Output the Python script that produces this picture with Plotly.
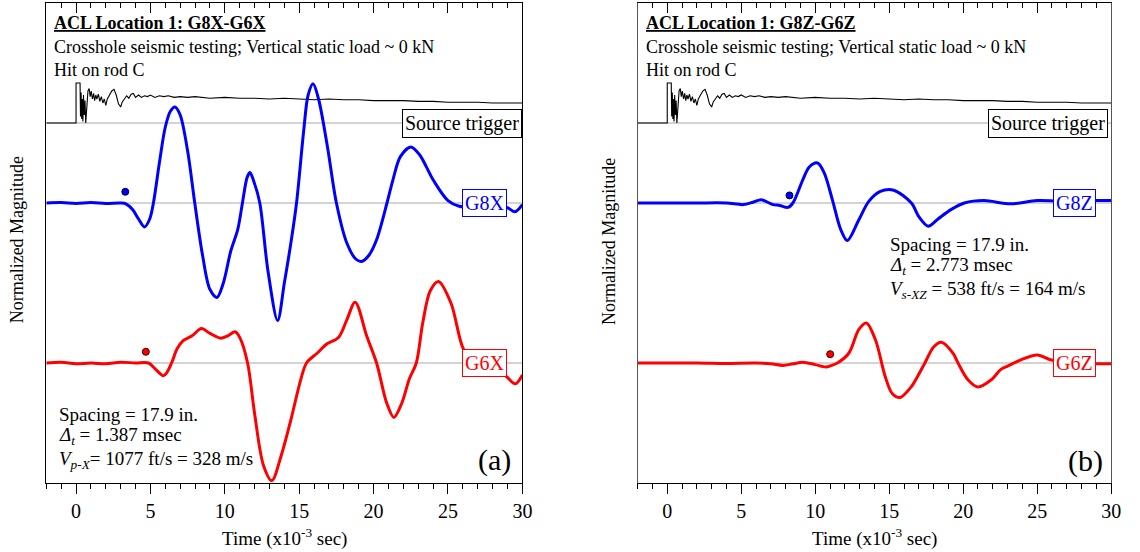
import plotly.graph_objects as go

# ---------------- data ----------------
# time axis in x10^-3 sec; magnitudes in normalized units (relative to each trace baseline)
trigger_pts = [(-2, 0), (0.0, 0), (0.0, 0.5), (0.27, 0.5), (0.30, 0.08), (0.34, 0.38), (0.38, 0.05),
               (0.42, 0.30), (0.46, 0.02), (0.50, 0.35), (0.55, 0.10), (0.60, 0.28), (0.65, 0.0),
               (0.72, 0.25), (0.80, 0.40), (0.88, 0.43), (0.95, 0.33), (1.02, 0.40), (1.10, 0.30),
               (1.18, 0.37), (1.25, 0.28), (1.33, 0.35), (1.40, 0.30), (1.50, 0.36), (1.60, 0.27),
               (1.70, 0.33), (1.80, 0.25), (1.90, 0.30), (2.00, 0.22), (2.10, 0.30), (2.25, 0.36),
               (2.40, 0.40), (2.55, 0.42), (2.70, 0.35), (2.85, 0.24), (3.00, 0.20), (3.10, 0.26),
               (3.25, 0.30), (3.40, 0.34), (3.55, 0.31), (3.70, 0.36), (3.85, 0.37), (4.00, 0.32),
               (4.2, 0.35), (4.4, 0.32), (4.6, 0.34), (4.8, 0.33), (5.0, 0.35), (5.3, 0.32),
               (5.6, 0.34), (5.9, 0.33), (6.2, 0.34), (6.6, 0.32), (7.0, 0.33), (7.5, 0.32),
               (8.0, 0.33), (8.5, 0.32), (9.0, 0.31), (10, 0.32), (11, 0.31), (12, 0.31), (13, 0.30),
               (14, 0.31), (15, 0.30), (16, 0.29), (17, 0.30), (18, 0.29), (19, 0.29), (20, 0.28),
               (21, 0.28), (22, 0.28), (23, 0.27), (24, 0.27), (25, 0.26), (26, 0.26), (27, 0.26),
               (28, 0.25), (29, 0.25), (30, 0.25)]

g8x_pts = [(-2, 0), (-1, 0.005), (0, -0.005), (1, 0.005), (2, -0.005), (3.0, 0.0), (3.35, -0.01),
           (3.8, -0.08), (4.2, -0.2), (4.6, -0.30), (4.95, -0.2), (5.2, 0.0), (5.6, 0.5), (6.0, 0.95),
           (6.35, 1.15), (6.65, 1.20), (7.0, 1.1), (7.5, 0.65), (7.98, 0.0), (8.5, -0.65), (9.0, -1.08),
           (9.47, -1.18), (9.9, -1.0), (10.4, -0.6), (10.87, -0.33), (11.2, 0.02), (11.5, 0.32),
           (11.69, 0.38), (11.95, 0.27), (12.35, 0.0), (12.9, -0.85), (13.55, -1.47),
           (14.0, -1.0), (14.44, -0.5), (14.82, 0.0), (15.3, 0.9), (15.6, 1.35), (15.93, 1.49),
           (16.3, 1.3), (16.9, 0.7), (17.5, 0.0), (18.2, -0.5), (18.8, -0.7), (19.2, -0.73),
           (19.7, -0.65), (20.2, -0.46), (20.9, 0.0), (21.3, 0.29), (21.8, 0.58), (22.5, 0.70),
           (23.1, 0.6), (24.0, 0.29), (25.0, 0.03), (25.75, -0.04), (27, -0.05), (28.0, -0.04),
           (29.0, -0.06), (29.5, -0.11), (30, -0.02)]

g6x_pts = [(-2, 0), (-1, 0.01), (0, -0.01), (1, 0.0), (2, -0.01), (3, 0.01), (4, 0.0), (4.87, 0.0),
           (5.3, -0.07), (5.87, -0.16), (6.1, -0.12), (6.42, 0.0), (6.8, 0.18), (7.2, 0.28), (7.8, 0.34),
           (8.42, 0.43), (9.0, 0.37), (9.71, 0.31), (10.2, 0.34), (10.69, 0.39), (11.0, 0.32),
           (11.53, 0.0), (12.0, -0.63), (12.6, -1.28), (13.16, -1.47), (13.8, -1.15), (14.44, -0.71),
           (15.1, -0.21), (15.49, 0.0), (16.22, 0.125), (16.87, 0.24), (17.64, 0.32), (18.2, 0.54),
           (18.76, 0.76), (19.55, 0.33), (20.2, 0.0), (20.88, -0.5), (21.36, -0.68), (21.9, -0.5),
           (22.4, -0.2), (22.87, 0.0), (23.3, 0.5), (23.8, 0.9), (24.36, 1.02), (25.2, 0.75),
           (26.0, 0.19), (26.6, 0.04), (28.0, -0.06), (28.87, -0.16), (29.53, -0.26), (30.0, -0.15)]

g8z_pts = [(-2, 0), (0, 0), (2, 0.0), (4, 0.0), (5.14, -0.02), (5.8, 0.01), (6.36, 0.04), (7.14, -0.02),
           (7.6, -0.03), (8.15, -0.055), (8.49, 0.0), (9.16, 0.29), (9.6, 0.45), (10.16, 0.50),
           (10.6, 0.38), (11.16, 0.04), (11.72, -0.33), (12.17, -0.47), (12.95, -0.21), (13.62, 0.02),
           (14.4, 0.145), (15.3, 0.16), (16.5, 0.0), (17.0, -0.17), (17.64, -0.29), (18.3, -0.2),
           (19.2, -0.08), (20.08, 0.0), (21.4, 0.03), (23.2, -0.01), (25.0, 0.03), (27, 0.02),
           (28.9, 0.03), (30, 0.03)]

g6z_pts = [(-2, 0), (2, 0.0), (4, -0.005), (6, 0.0), (7.0, -0.01), (7.82, -0.03), (8.5, -0.01),
           (9.16, 0.01), (10.0, -0.02), (10.72, -0.05), (11.1, -0.03), (11.5, 0.0), (12.28, 0.125),
           (12.95, 0.42), (13.46, 0.50), (14.07, 0.29), (14.73, -0.17), (15.2, -0.38), (15.74, -0.43),
           (16.52, -0.29), (16.97, -0.15), (17.41, 0.0), (18.0, 0.2), (18.53, 0.26), (19.32, 0.12),
           (19.65, 0.0), (20.32, -0.21), (20.99, -0.30), (21.9, -0.21), (22.55, -0.08), (23.0, -0.04),
           (23.9, 0.04), (25.0, 0.10), (25.9, 0.04), (27, 0.0), (28.9, -0.01), (30, -0.01)]

# trace baselines (normalized units)
base_trigger = 3.0
base_upper = 2.0
base_lower = 0.0

# first-arrival picks
dots_a_t = [3.31, 4.69]
dots_a_y = [0.14, 0.14]
dots_b_t = [8.26, 11.01]
dots_b_y = [0.095, 0.11]

x_ticks = [0, 5, 10, 15, 20, 25, 30]

FONT = "Liberation Serif"
BLUE = "#0000ff"
RED = "#ff0000"


def split(pts, off=0.0):
    return [p[0] for p in pts], [p[1] + off for p in pts]


fig = go.Figure()


def add_panel(xa, ya, up_pts, lo_pts, dt, dy):
    for b in (base_trigger, base_upper, base_lower):
        fig.add_trace(go.Scatter(x=[-2, 30], y=[b, b], mode="lines",
                                 line=dict(color="#a8a8a8", width=1), xaxis=xa, yaxis=ya,
                                 showlegend=False, hoverinfo="skip"))
    tx, ty = split(trigger_pts, base_trigger)
    fig.add_trace(go.Scatter(x=tx, y=ty, mode="lines", line=dict(color="black", width=1.1),
                             xaxis=xa, yaxis=ya, showlegend=False, hoverinfo="skip"))
    ux, uy = split(up_pts, base_upper)
    fig.add_trace(go.Scatter(x=ux, y=uy, mode="lines", line=dict(color=BLUE, width=3, shape="spline", smoothing=0.9),
                             xaxis=xa, yaxis=ya, showlegend=False, hoverinfo="skip"))
    lx, ly = split(lo_pts, base_lower)
    fig.add_trace(go.Scatter(x=lx, y=ly, mode="lines", line=dict(color=RED, width=3, shape="spline", smoothing=0.9),
                             xaxis=xa, yaxis=ya, showlegend=False, hoverinfo="skip"))
    fig.add_trace(go.Scatter(x=[dt[0]], y=[dy[0] + base_upper], mode="markers",
                             marker=dict(color=BLUE, size=7, line=dict(color="#000033", width=1)),
                             xaxis=xa, yaxis=ya, showlegend=False, hoverinfo="skip"))
    fig.add_trace(go.Scatter(x=[dt[1]], y=[dy[1] + base_lower], mode="markers",
                             marker=dict(color=RED, size=7, line=dict(color="#330000", width=1)),
                             xaxis=xa, yaxis=ya, showlegend=False, hoverinfo="skip"))


add_panel("x", "y", g8x_pts, g6x_pts, dots_a_t, dots_a_y)
add_panel("x2", "y2", g8z_pts, g6z_pts, dots_b_t, dots_b_y)
# invisible anchors for top tick axes
fig.add_trace(go.Scatter(x=[0], y=[0], mode="markers", marker=dict(opacity=0), xaxis="x3", yaxis="y",
                         showlegend=False, hoverinfo="skip"))
fig.add_trace(go.Scatter(x=[0], y=[0], mode="markers", marker=dict(opacity=0), xaxis="x4", yaxis="y2",
                         showlegend=False, hoverinfo="skip"))

dom_a = [46.7 / 1140, 527 / 1140]
dom_b = [643.3 / 1140, 1121 / 1140]


def xbottom(dom, anchor):
    return dict(domain=dom, anchor=anchor, range=[-2, 30], tickvals=x_ticks, ticks="outside", ticklen=10,
                tickwidth=1, tickcolor="black", showline=True, linecolor="black", linewidth=1, mirror=True,
                showgrid=False, zeroline=False,
                minor=dict(dtick=1, tick0=0, ticks="outside", ticklen=5, tickcolor="black", showgrid=False),
                tickfont=dict(family=FONT, size=20, color="black"))


def xtop(over, anchor):
    return dict(overlaying=over, anchor=anchor, side="top", range=[-2, 30], tickvals=x_ticks, ticks="inside",
                ticklen=10, tickwidth=1, tickcolor="black", showticklabels=False, showline=False,
                showgrid=False, zeroline=False,
                minor=dict(dtick=1, tick0=0, ticks="inside", ticklen=5, tickcolor="black", showgrid=False))


def yax(anchor, color):
    return dict(domain=[0, 1], anchor=anchor, range=[-1.5, 4.5], showticklabels=False, ticks="",
                showline=True, linecolor=color, linewidth=1, mirror=True, showgrid=False, zeroline=False)


fig.update_layout(
    width=1140, height=552, margin=dict(l=0, r=0, t=3, b=69),
    paper_bgcolor="white", plot_bgcolor="white", showlegend=False,
    font=dict(family=FONT, size=19, color="black"),
    xaxis=xbottom(dom_a, "y"), xaxis2=xbottom(dom_b, "y2"),
    xaxis3=xtop("x", "y"), xaxis4=xtop("x2", "y2"),
    yaxis=yax("x", "black"), yaxis2=yax("x2", "#555555"),
)


def py(p):
    return (483 - p) / 480


ann = []


def txt(text, px, ppy, size=19, xanchor="left", color="black", angle=0):
    ann.append(dict(text=text, x=px / 1140, y=py(ppy), xref="paper", yref="paper", showarrow=False,
                    xanchor=xanchor, yanchor="middle", textangle=angle,
                    font=dict(family=FONT, size=size, color=color)))


for left, sp_left, name, sp_y, dtv, vtxt, tag, tagx, tagy in [
    (52, 57, "G8X-G6X", 414, "1.387", "<i>V<sub>p-X</sub></i>= 1077 ft/s = 328 m/s", "(a)", 499, 460),
    (650, 896, "G8Z-G6Z", 244, "2.773", "<i>V<sub>s-XZ</sub></i> = 538 ft/s = 164 m/s", "(b)", 1095, 461),
]:
    txt("<b><u>ACL Location 1: " + name + "</u></b>", left, 23, size=18)
    txt("Crosshole seismic testing; Vertical static load ~ 0 kN", left, 47, size=18)
    txt("Hit on rod C", left, 70, size=18)
    txt("Spacing = 17.9 in.", sp_left, sp_y)
    txt("<i>Δ<sub>t</sub></i> = " + dtv + " msec", sp_left, sp_y + 22)
    txt(vtxt, sp_left, sp_y + 46)
    txt(tag, tagx, tagy, size=30, xanchor="center")

txt("Normalized Magnitude", 17.5, 240, size=18, xanchor="center", angle=-90)
txt("Normalized Magnitude", 614.5, 242, size=18, xanchor="center", angle=-90)
txt("Time (x10<sup>-3</sup> sec)", (46.7 + 527) / 2, 537, xanchor="center")
txt("Time (x10<sup>-3</sup> sec)", (643.3 + 1121) / 2, 537, xanchor="center")


def box(text, xref, yref, x, y, color, xanchor="center"):
    ann.append(dict(text=text, x=x, y=y, xref=xref, yref=yref, showarrow=False, xanchor=xanchor,
                    yanchor="middle", bgcolor="white", bordercolor=color, borderwidth=1, borderpad=2,
                    font=dict(family=FONT, size=20, color=color)))


box("Source trigger", "x", "y", 29.97, base_trigger, "black", xanchor="right")
box("G8X", "x", "y", 27.45, base_upper, BLUE)
box("G6X", "x", "y", 27.45, base_lower, RED)
box("Source trigger", "x2", "y2", 29.8, base_trigger, "black", xanchor="right")
box("G8Z", "x2", "y2", 27.5, base_upper, BLUE)
box("G6Z", "x2", "y2", 27.5, base_lower, RED)

fig.update_layout(annotations=ann)
fig.write_html("out.html")
